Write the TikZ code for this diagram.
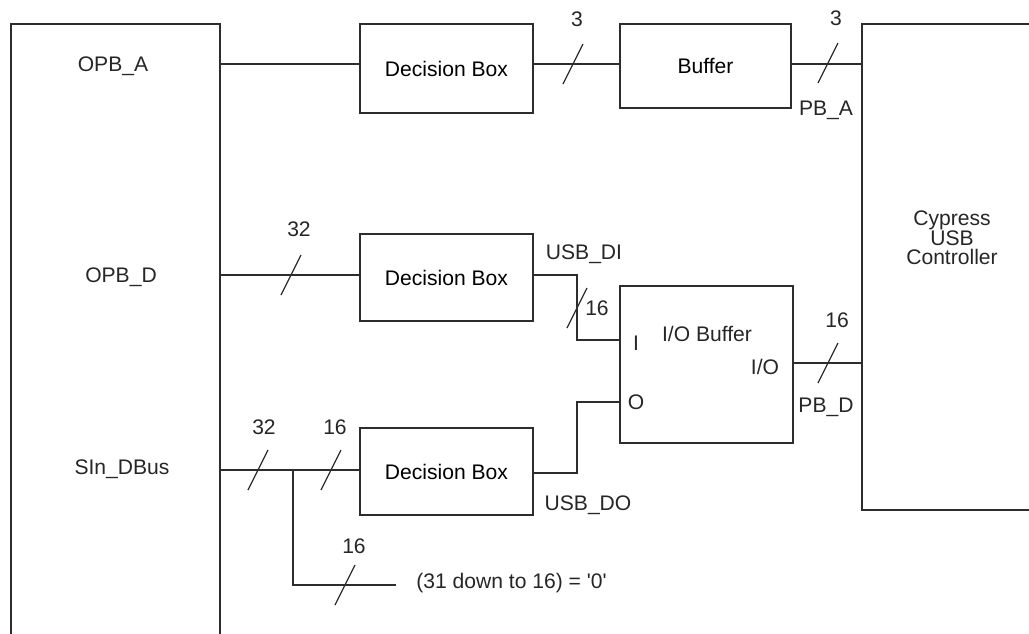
\documentclass[tikz,border=0pt]{standalone}
\usepackage{fontspec}
\setmainfont{Liberation Sans}
\usepackage{xcolor}
\definecolor{linegray}{RGB}{45,45,45}
\tikzset{
    blockbox/.style={rectangle, draw=linegray, line width=0.7pt, inner sep=0pt},
    wire/.style={draw=linegray, line width=0.7pt},
    lbl/.style={inner sep=0pt, text=black!85},
    buswidth/.pic={\draw[wire] (-10,20) -- (10,-20);}
}

\begin{document}
\begin{tikzpicture}[x=0.02cm, y=-0.02cm, every node/.style={font=\fontsize{12}{14}\selectfont}]
\clip (0,0) rectangle (1029,633);

% Outer blocks
\node[blockbox, minimum width=4.18cm, minimum height=13.52cm] (opb) at (115.5,362) {};
\node[blockbox, minimum width=4.76cm, minimum height=9.72cm] (ctrl) at (981,267) {};

% Inner blocks
\node[blockbox, minimum width=3.46cm, minimum height=1.78cm] (decA) at (446.5,68.5) {Decision Box};
\node[blockbox, minimum width=3.42cm, minimum height=1.68cm] (buf) at (705.5,66) {Buffer};
\node[blockbox, minimum width=3.46cm, minimum height=1.74cm] (decD) at (446.5,277.5) {Decision Box};
\node[blockbox, minimum width=3.46cm, minimum height=1.74cm] (decS) at (446.5,471.5) {Decision Box};
\node[blockbox, minimum width=3.46cm, minimum height=3.14cm] (iobuf) at (706.5,364.5) {};

% Bus levels
\coordinate (ya) at (0,64);
\coordinate (yd) at (0,275);
\coordinate (ys) at (0,470);
\coordinate (yi) at (0,340);
\coordinate (yo) at (0,402);
\coordinate (yio) at (0,363);
\coordinate (ydo) at (0,473);
\coordinate (xjog) at (577,0);
\coordinate (split) at (293,470);
\coordinate (zero) at (396,585);

% Wires
\draw[wire] (opb.east |- ya) -- (decA.west |- ya);
\draw[wire] (decA.east |- ya) -- (buf.west |- ya);
\draw[wire] (buf.east |- ya) -- (ctrl.west |- ya);
\draw[wire] (opb.east |- yd) -- (decD.west |- yd);
\draw[wire] (decD.east |- yd) -| (xjog |- yi) -- (iobuf.west |- yi);
\draw[wire] (iobuf.west |- yo) -| (xjog |- ydo) -- (decS.east |- ydo);
\draw[wire] (iobuf.east |- yio) -- (ctrl.west |- yio);
\draw[wire] (opb.east |- ys) -- (decS.west |- ys);
\draw[wire] (split) |- (zero);

% Bus width marks
\pic (sA1) at (573,64) {buswidth};
\pic (sA2) at (828,63) {buswidth};
\pic (sD1) at (291,275) {buswidth};
\pic (sDI) at (577,308) {buswidth};
\pic (sIO) at (828,363) {buswidth};
\pic (sS1) at (258,470) {buswidth};
\pic (sS2) at (331,470) {buswidth};
\pic (sZ) at (345,585) {buswidth};

% Labels
\node[lbl] (lopba) at (113,66) {OPB\_A};
\node[lbl] (lopbd) at (121,277) {OPB\_D};
\node[lbl] (lsin) at (122,469) {SIn\_DBus};
\node[lbl, align=center] (lctrl) at (952,238) {Cypress\\[-3pt]USB\\[-3pt]Controller};
\node[lbl] (lw3a) at (577,19) {3};
\node[lbl] (lw3b) at (836,18) {3};
\node[lbl] (lpba) at (826,110) {PB\_A};
\node[lbl] (lw32a) at (299,229) {32};
\node[lbl] (lusbdi) at (584,254) {USB\_DI};
\node[lbl] (lw16a) at (597,308) {16};
\node[lbl] (lin) at (636,343) {I};
\node[lbl] (lout) at (636,402) {O};
\node[lbl] (liobuf) at (707,334) {I/O Buffer};
\node[lbl] (lio) at (765,367) {I/O};
\node[lbl] (lw16b) at (837,320) {16};
\node[lbl] (lpbd) at (826,407) {PB\_D};
\node[lbl] (lusbdo) at (588,505) {USB\_DO};
\node[lbl] (lw32b) at (264,427) {32};
\node[lbl] (lw16c) at (335,427) {16};
\node[lbl] (lw16d) at (354,546) {16};
\node[lbl, anchor=west] (lzero) at (416,583) {(31 down to 16) = \textquotesingle 0\textquotesingle};

\end{tikzpicture}
\end{document}
